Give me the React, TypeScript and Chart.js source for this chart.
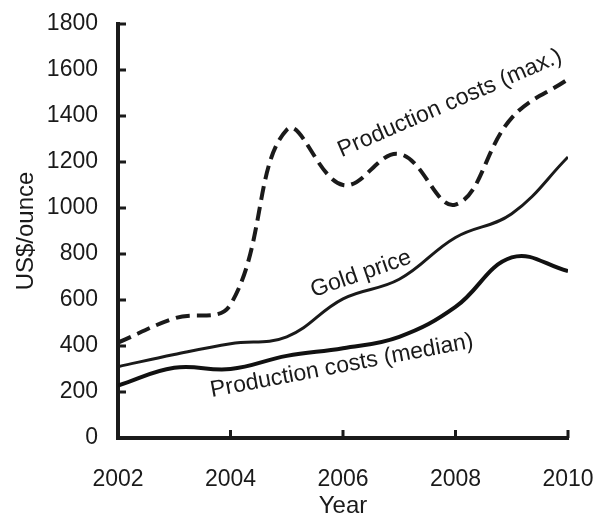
import React, { useEffect, useRef } from "react";
import { Chart, registerables } from "chart.js";

Chart.register(...registerables);

const years = [2002, 2003, 2004, 2005, 2006, 2007, 2008, 2009, 2010];
const maxCosts = [415, 520, 580, 1340, 1100, 1235, 1015, 1392, 1560];
const goldPrice = [310, 363, 410, 440, 605, 690, 872, 975, 1222];
const medianCosts = [228, 305, 300, 357, 390, 440, 570, 785, 726];

const xTickValues = [2002, 2004, 2006, 2008, 2010];
const yTickValues = [0, 200, 400, 600, 800, 1000, 1200, 1400, 1600, 1800];

const labelTexts = ["Production costs (max.)", "Gold price", "Production costs (median)"];
const labelYears = [2007.9, 2006.32, 2005.98];
const labelValues = [1455, 713, 313];
const labelAngles = [-23.4, -19.2, -10.7];

const FONT = "'Liberation Sans', Arial, Helvetica, sans-serif";

const toPoints = (vals: number[]) => vals.map((v, i) => ({ x: years[i], y: v }));

const zeroPadding = (s: any) => {
  s.paddingLeft = 0;
  s.paddingRight = 0;
  s.paddingTop = 0;
  s.paddingBottom = 0;
};

const innerTicksPlugin = {
  id: "innerTicks",
  afterDraw(chart: any) {
    const { ctx, chartArea, scales } = chart;
    const xs = scales.x;
    const ys = scales.y;
    ctx.save();
    ctx.strokeStyle = "#1a1a1a";
    ctx.lineWidth = 3;
    ctx.lineCap = "butt";
    ctx.beginPath();
    yTickValues.forEach((v) => {
      const py = ys.getPixelForValue(v);
      ctx.moveTo(chartArea.left, py);
      ctx.lineTo(chartArea.left + 8, py);
    });
    xTickValues.forEach((v) => {
      const px = xs.getPixelForValue(v);
      ctx.moveTo(px, chartArea.bottom);
      ctx.lineTo(px, chartArea.bottom - 8);
    });
    ctx.stroke();
    ctx.restore();
  },
};

const textLabelsPlugin = {
  id: "textLabels",
  afterDatasetsDraw(chart: any) {
    const { ctx, scales } = chart;
    ctx.save();
    ctx.fillStyle = "#1a1a1a";
    ctx.font = `23px ${FONT}`;
    ctx.textAlign = "center";
    ctx.textBaseline = "middle";
    labelTexts.forEach((t, i) => {
      const px = scales.x.getPixelForValue(labelYears[i]);
      const py = scales.y.getPixelForValue(labelValues[i]);
      ctx.save();
      ctx.translate(px, py);
      ctx.rotate((labelAngles[i] * Math.PI) / 180);
      ctx.fillText(t, 0, 0);
      ctx.restore();
    });
    ctx.restore();
  },
};

export default function App() {
  const canvasRef = useRef<HTMLCanvasElement | null>(null);

  useEffect(() => {
    document.body.style.margin = "0";
    const canvas = canvasRef.current;
    if (!canvas) return;
    const chart = new Chart(canvas, {
      type: "line",
      data: {
        datasets: [
          {
            label: "Production costs (max.)",
            data: toPoints(maxCosts),
            borderColor: "#1a1a1a",
            borderWidth: 4,
            borderDash: [14, 7],
            pointRadius: 0,
            tension: 0.4,
            fill: false,
          },
          {
            label: "Gold price",
            data: toPoints(goldPrice),
            borderColor: "#1a1a1a",
            borderWidth: 3,
            pointRadius: 0,
            tension: 0.4,
            fill: false,
          },
          {
            label: "Production costs (median)",
            data: toPoints(medianCosts),
            borderColor: "#111111",
            borderWidth: 4,
            pointRadius: 0,
            tension: 0.4,
            fill: false,
          },
        ],
      },
      options: {
        responsive: false,
        animation: false,
        devicePixelRatio: 1,
        layout: { padding: { left: 0, right: 30, top: 24, bottom: 0 } },
        plugins: {
          legend: { display: false },
          tooltip: { enabled: false },
        },
        scales: {
          x: {
            type: "linear",
            min: 2002,
            max: 2010,
            afterBuildTicks: (s: any) => {
              s.ticks = xTickValues.map((v) => ({ value: v }));
            },
            afterFit: (s: any) => {
              s.height = 77;
              zeroPadding(s);
            },
            grid: { display: false, drawTicks: false },
            border: { display: true, width: 4, color: "#1a1a1a" },
            ticks: {
              padding: 28,
              color: "#1a1a1a",
              font: { family: FONT, size: 23 },
              maxRotation: 0,
              callback: (v: any) => String(v),
            },
            title: {
              display: true,
              text: "Year",
              color: "#1a1a1a",
              font: { family: FONT, size: 24, lineHeight: 0.8 },
              padding: { top: 0, bottom: -1 },
            },
          },
          y: {
            type: "linear",
            min: 0,
            max: 1800,
            afterBuildTicks: (s: any) => {
              s.ticks = yTickValues.map((v) => ({ value: v }));
            },
            afterFit: (s: any) => {
              s.width = 118;
              zeroPadding(s);
            },
            grid: { display: false, drawTicks: false },
            border: { display: true, width: 4, color: "#1a1a1a" },
            ticks: {
              padding: 20,
              color: "#1a1a1a",
              font: { family: FONT, size: 23 },
              callback: (v: any) => String(v),
            },
            title: {
              display: true,
              text: "US$/ounce",
              color: "#1a1a1a",
              font: { family: FONT, size: 24, lineHeight: 1.2 },
              padding: { top: 12, bottom: 0 },
            },
          },
        },
      },
      plugins: [innerTicksPlugin, textLabelsPlugin],
    });
    return () => chart.destroy();
  }, []);

  return (
    <div style={{ width: 598, height: 515 }}>
      <canvas ref={canvasRef} width={598} height={515} style={{ width: 598, height: 515 }} />
    </div>
  );
}
